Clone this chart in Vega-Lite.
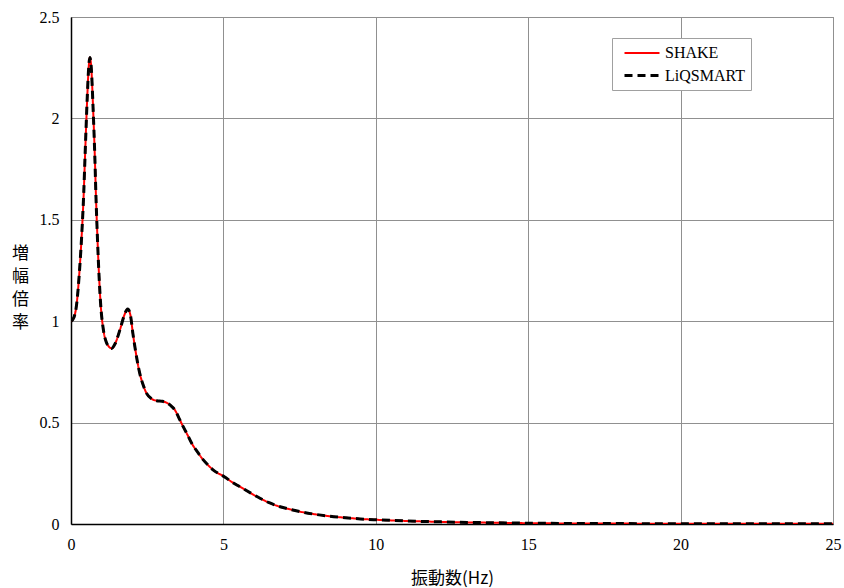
{
  "$schema": "https://vega.github.io/schema/vega-lite/v6.json",
  "width": 762,
  "height": 507,
  "autosize": {"type": "none"},
  "padding": {"left": 71, "top": 17, "right": 11, "bottom": 64},
  "background": "white",
  "config": {
    "view": {"stroke": "#808080", "strokeWidth": 1},
    "font": "Liberation Serif"
  },
  "data": {
    "values": [
      {"f": 0, "SHAKE": 1.0, "LiQSMART": 1.0},
      {"f": 0.1, "SHAKE": 1.02, "LiQSMART": 1.02},
      {"f": 0.19, "SHAKE": 1.09, "LiQSMART": 1.09},
      {"f": 0.27, "SHAKE": 1.23, "LiQSMART": 1.23},
      {"f": 0.35, "SHAKE": 1.42, "LiQSMART": 1.42},
      {"f": 0.42, "SHAKE": 1.64, "LiQSMART": 1.64},
      {"f": 0.46, "SHAKE": 1.81, "LiQSMART": 1.81},
      {"f": 0.535, "SHAKE": 2.11, "LiQSMART": 2.11},
      {"f": 0.58, "SHAKE": 2.25, "LiQSMART": 2.25},
      {"f": 0.62, "SHAKE": 2.3, "LiQSMART": 2.3},
      {"f": 0.66, "SHAKE": 2.26, "LiQSMART": 2.26},
      {"f": 0.73, "SHAKE": 2.03, "LiQSMART": 2.03},
      {"f": 0.78, "SHAKE": 1.82, "LiQSMART": 1.82},
      {"f": 0.82, "SHAKE": 1.61, "LiQSMART": 1.61},
      {"f": 0.86, "SHAKE": 1.44, "LiQSMART": 1.44},
      {"f": 0.9, "SHAKE": 1.29, "LiQSMART": 1.29},
      {"f": 0.97, "SHAKE": 1.09, "LiQSMART": 1.09},
      {"f": 1.06, "SHAKE": 0.96, "LiQSMART": 0.96},
      {"f": 1.15, "SHAKE": 0.9, "LiQSMART": 0.9},
      {"f": 1.23, "SHAKE": 0.877, "LiQSMART": 0.877},
      {"f": 1.33, "SHAKE": 0.866, "LiQSMART": 0.866},
      {"f": 1.45, "SHAKE": 0.89, "LiQSMART": 0.89},
      {"f": 1.61, "SHAKE": 0.96, "LiQSMART": 0.96},
      {"f": 1.75, "SHAKE": 1.03, "LiQSMART": 1.03},
      {"f": 1.86, "SHAKE": 1.06, "LiQSMART": 1.06},
      {"f": 1.95, "SHAKE": 1.03, "LiQSMART": 1.03},
      {"f": 2.03, "SHAKE": 0.94, "LiQSMART": 0.94},
      {"f": 2.1, "SHAKE": 0.87, "LiQSMART": 0.87},
      {"f": 2.26, "SHAKE": 0.74, "LiQSMART": 0.74},
      {"f": 2.38, "SHAKE": 0.68, "LiQSMART": 0.68},
      {"f": 2.48, "SHAKE": 0.644, "LiQSMART": 0.644},
      {"f": 2.65, "SHAKE": 0.617, "LiQSMART": 0.617},
      {"f": 2.81, "SHAKE": 0.608, "LiQSMART": 0.608},
      {"f": 3.0, "SHAKE": 0.605, "LiQSMART": 0.605},
      {"f": 3.14, "SHAKE": 0.598, "LiQSMART": 0.598},
      {"f": 3.3, "SHAKE": 0.58, "LiQSMART": 0.58},
      {"f": 3.41, "SHAKE": 0.562, "LiQSMART": 0.562},
      {"f": 3.55, "SHAKE": 0.52, "LiQSMART": 0.52},
      {"f": 3.68, "SHAKE": 0.48, "LiQSMART": 0.48},
      {"f": 3.82, "SHAKE": 0.44, "LiQSMART": 0.44},
      {"f": 3.96, "SHAKE": 0.398, "LiQSMART": 0.398},
      {"f": 4.15, "SHAKE": 0.355, "LiQSMART": 0.355},
      {"f": 4.34, "SHAKE": 0.316, "LiQSMART": 0.316},
      {"f": 4.5, "SHAKE": 0.29, "LiQSMART": 0.29},
      {"f": 4.67, "SHAKE": 0.266, "LiQSMART": 0.266},
      {"f": 5.03, "SHAKE": 0.233, "LiQSMART": 0.233},
      {"f": 5.3, "SHAKE": 0.205, "LiQSMART": 0.205},
      {"f": 5.54, "SHAKE": 0.184, "LiQSMART": 0.184},
      {"f": 5.9, "SHAKE": 0.152, "LiQSMART": 0.152},
      {"f": 6.2, "SHAKE": 0.127, "LiQSMART": 0.127},
      {"f": 6.5, "SHAKE": 0.105, "LiQSMART": 0.105},
      {"f": 6.86, "SHAKE": 0.085, "LiQSMART": 0.085},
      {"f": 7.2, "SHAKE": 0.072, "LiQSMART": 0.072},
      {"f": 7.51, "SHAKE": 0.061, "LiQSMART": 0.061},
      {"f": 8.0, "SHAKE": 0.048, "LiQSMART": 0.048},
      {"f": 8.5, "SHAKE": 0.038, "LiQSMART": 0.038},
      {"f": 9.0, "SHAKE": 0.031, "LiQSMART": 0.031},
      {"f": 9.5, "SHAKE": 0.025, "LiQSMART": 0.025},
      {"f": 10.0, "SHAKE": 0.021, "LiQSMART": 0.021},
      {"f": 11.0, "SHAKE": 0.015, "LiQSMART": 0.015},
      {"f": 12.0, "SHAKE": 0.011, "LiQSMART": 0.011},
      {"f": 13.0, "SHAKE": 0.008, "LiQSMART": 0.008},
      {"f": 14.0, "SHAKE": 0.006, "LiQSMART": 0.006},
      {"f": 15.0, "SHAKE": 0.004, "LiQSMART": 0.004},
      {"f": 16.0, "SHAKE": 0.003, "LiQSMART": 0.003},
      {"f": 18.0, "SHAKE": 0.002, "LiQSMART": 0.002},
      {"f": 20.0, "SHAKE": 0.0015, "LiQSMART": 0.0015},
      {"f": 22.0, "SHAKE": 0.001, "LiQSMART": 0.001},
      {"f": 25.0, "SHAKE": 0.001, "LiQSMART": 0.001}
    ]
  },
  "transform": [
    {"fold": ["SHAKE", "LiQSMART"], "as": ["series", "v"]}
  ],
  "mark": {"type": "line", "interpolate": "monotone", "clip": true},
  "encoding": {
    "x": {
      "field": "f",
      "type": "quantitative",
      "scale": {"domain": [0, 25], "nice": false},
      "axis": {
        "values": [0, 5, 10, 15, 20, 25],
        "format": "~g",
        "title": "振動数(Hz)",
        "titleFont": "Noto Sans CJK JP",
        "titleFontSize": 17,
        "titleFontWeight": "normal",
        "titleColor": "#000",
        "titleY": 54,
        "titleBaseline": "middle",
        "labelFont": "Liberation Serif",
        "labelFontSize": 16,
        "labelColor": "#000",
        "labelPadding": 12,
        "labelFlush": false,
        "ticks": false,
        "domainColor": "#000",
        "domainWidth": 1.5,
        "gridColor": "#909090",
        "gridWidth": 1,
        "gridOpacity": 1
      }
    },
    "y": {
      "field": "v",
      "type": "quantitative",
      "scale": {"domain": [0, 2.5], "nice": false},
      "axis": {
        "values": [0, 0.5, 1, 1.5, 2, 2.5],
        "format": "~g",
        "title": ["増", "幅", "倍", "率"],
        "titleFont": "Noto Sans CJK JP",
        "titleFontSize": 17,
        "titleFontWeight": "normal",
        "titleColor": "#000",
        "titleAngle": 0,
        "titleAlign": "center",
        "titleBaseline": "middle",
        "titleLineHeight": 23,
        "titleX": -51,
        "titleY": 236,
        "labelFont": "Liberation Serif",
        "labelFontSize": 16,
        "labelColor": "#000",
        "labelPadding": 12,
        "labelFlush": false,
        "ticks": false,
        "domainColor": "#000",
        "domainWidth": 1.5,
        "gridColor": "#909090",
        "gridWidth": 1,
        "gridOpacity": 1
      }
    },
    "color": {
      "field": "series",
      "type": "nominal",
      "scale": {"domain": ["SHAKE", "LiQSMART"], "range": ["#ff0000", "#000000"]},
      "legend": {
        "orient": "none",
        "legendX": 541,
        "legendY": 21,
        "title": null,
        "symbolType": "M-0.375,0H4",
        "symbolSize": 256,
        "labelFont": "Liberation Serif",
        "labelFontSize": 16,
        "labelColor": "#000",
        "labelOffset": 28,
        "rowPadding": 5,
        "padding": 6,
        "strokeColor": "#a0a0a0",
        "fillColor": "white"
      }
    },
    "strokeDash": {
      "field": "series",
      "type": "nominal",
      "scale": {"domain": ["SHAKE", "LiQSMART"], "range": [[1, 0], [8, 5]]},
      "legend": null
    },
    "strokeWidth": {
      "field": "series",
      "type": "nominal",
      "scale": {"domain": ["SHAKE", "LiQSMART"], "range": [2, 3]},
      "legend": null
    }
  }
}
